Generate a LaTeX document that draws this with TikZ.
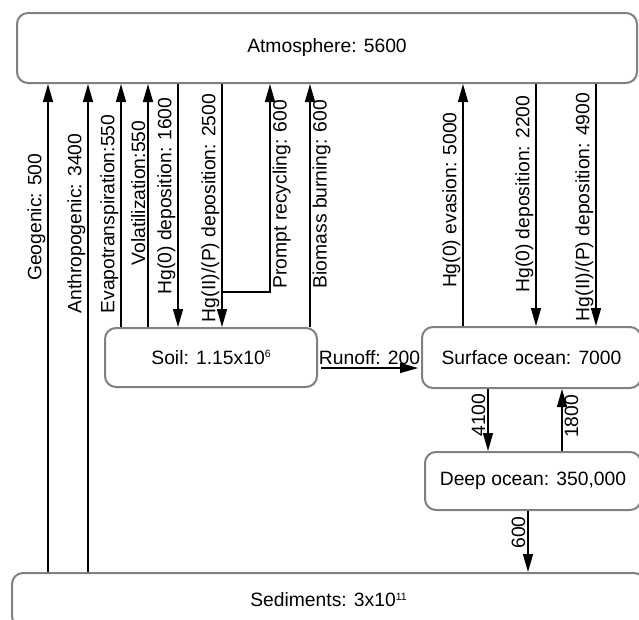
\documentclass[tikz,border=0pt]{standalone}
\usepackage{fontspec}
\setmainfont{Liberation Sans}
\usetikzlibrary{arrows.meta,positioning}
\definecolor{boxgray}{RGB}{128,128,128}
\newcommand{\smallexp}[1]{\raisebox{6.5pt}{\fontsize{10.5}{10.5}\selectfont #1}}

\begin{document}
\begin{tikzpicture}[x=1pt,y=-1pt,font=\fontsize{19.3}{23}\selectfont,
                    pool/.style={draw=boxgray,line width=2pt,rounded corners=11pt,inner sep=0pt},
                    flux/.style={-{Triangle[length=18pt,width=10pt]},line width=1.4pt},
                    lft/.style={rotate=90,anchor=south,inner sep=2pt},
                    rgt/.style={rotate=90,anchor=north,inner sep=2pt}]
  \clip (0,0) rectangle (639,619);
  % reservoirs
  \node[pool,minimum width=620pt,minimum height=70pt] (atm) at (327,48) {Atmosphere: 5600};
  \node[pool,minimum width=212pt,minimum height=59pt] (soil) at (211,357.5) {Soil: 1.15x10\smallexp{6}};
  \node[pool,minimum width=219pt,minimum height=61pt] (surf) at (531.5,357.5) {Surface ocean: 7000};
  \node[pool,minimum width=216pt,minimum height=58pt] (deep) at (533,481) {Deep ocean: 350,000};
  \node[pool,minimum width=633pt,minimum height=54pt] (sed) at (328.5,600) {Sediments: 3x10\smallexp{11}};
  % land side
  \draw[flux] (48,0 |- sed.north) -- node[lft,pos=.727] (lgeo) {Geogenic: 500} (48,0 |- atm.south);
  \draw[flux] (88,0 |- sed.north) -- node[lft,pos=.714] (lanth) {Anthropogenic: 3400} (88,0 |- atm.south);
  \draw[flux] (121,0 |- soil.north) -- node[lft,pos=.465] (levap) {Evapotranspiration:550} (121,0 |- atm.south);
  \draw[flux] (148,0 |- soil.north) -- node[lft,pos=.551] (lvol) {Volatilization:550} (148,0 |- atm.south);
  \draw[flux] (178,0 |- atm.south) -- node[lft,pos=.461] (ldep1) {Hg(0) deposition: 1600} (178,0 |- soil.north);
  \draw[flux] (222,0 |- atm.south) -- node[lft,pos=.51] (ldep2) {Hg(II)/(P) deposition: 2500} (222,0 |- soil.north);
  \coordinate (split) at (222,292);
  \draw[flux] (split) -| node[rgt,pos=.735] (lrec) {Prompt recycling: 600} (270,0 |- atm.south);
  \draw[flux] (310,0 |- soil.north) -- node[rgt,pos=.547] (lbio) {Biomass burning: 600} (310,0 |- atm.south);
  \coordinate (ro) at ([yshift=-10.5pt]soil.east);
  \draw[flux,shorten <=3pt,shorten >=3pt] (ro) -- node[above,inner sep=3pt] (lrun) {Runoff: 200} (ro -| surf.west);
  % ocean side
  \draw[flux] (463,0 |- surf.north) -- node[lft,pos=.52] (leva) {Hg(0) evasion: 5000} (463,0 |- atm.south);
  \draw[flux] (536,0 |- atm.south) -- node[lft,pos=.455] (ldep3) {Hg(0) deposition: 2200} (536,0 |- surf.north);
  \draw[flux] (596,0 |- atm.south) -- node[lft,pos=.508] (ldep4) {Hg(II)/(P) deposition: 4900} (596,0 |- surf.north);
  \draw[flux] (488,0 |- surf.south) -- node[lft,pos=.42] (ldown) {4100} (488,0 |- deep.north);
  \draw[flux] (562,0 |- deep.north) -- node[rgt,pos=.56] (lup) {1800} (562,0 |- surf.south);
  \draw[flux] (528,0 |- deep.south) -- node[lft,pos=.35] (lsed) {600} (528,0 |- sed.north);
\end{tikzpicture}
\end{document}
